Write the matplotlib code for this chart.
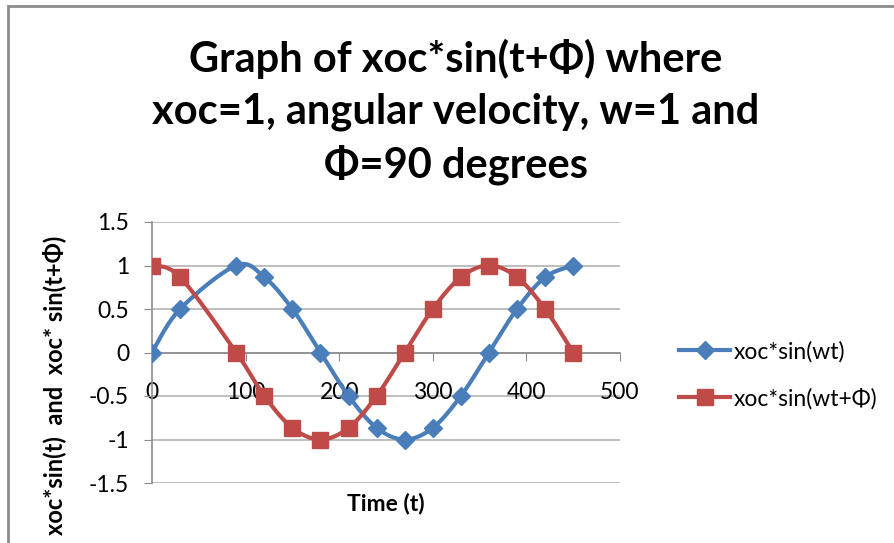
import numpy as np
import matplotlib
matplotlib.use("Agg")
import matplotlib.pyplot as plt
from matplotlib.lines import Line2D

# dados
tempo = [0, 30, 90, 120, 150, 180, 210, 240, 270, 300, 330, 360, 390, 420, 450]
seno = [0, 0.5, 1, 0.866, 0.5, 0, -0.5, -0.866, -1, -0.866, -0.5, 0, 0.5, 0.866, 1]
seno_fase = [1, 0.866, 0, -0.5, -0.866, -1, -0.866, -0.5, 0, 0.5, 0.866, 1, 0.866, 0.5, 0]

nomes = ["xoc*sin(wt)", "xoc*sin(wt+\u03a6)"]
titulo = "Graph of xoc*sin(t+\u03a6) where\nxoc=1, angular velocity, w=1 and\n\u03a6=90 degrees"
y_ticks = [-1.5, -1, -0.5, 0, 0.5, 1, 1.5]
y_labels = ["-1.5", "-1", "-0.5", "0", "0.5", "1", "1.5"]
x_ticks = [0, 100, 200, 300, 400, 500]

azul = "#4A7EBB"
vermelho = "#BE4B48"

plt.rcParams['font.family'] = ['Lato', 'DejaVu Sans']


# curva suavizada tipo Excel (Catmull-Rom)
def suavizar(x, y, sx=100.0, sy=1.0, n=20):
    px = np.array(x, dtype=float) / sx
    py = np.array(y, dtype=float) / sy
    pts = np.column_stack([px, py])
    pts = np.vstack([pts[0], pts, pts[-1]])
    saida = []
    for i in range(1, len(pts) - 2):
        p0, p1, p2, p3 = pts[i - 1], pts[i], pts[i + 1], pts[i + 2]
        t = np.linspace(0, 1, n)[:, None]
        c = 0.5 * ((2 * p1) + (-p0 + p2) * t +
                   (2 * p0 - 5 * p1 + 4 * p2 - p3) * t ** 2 +
                   (-p0 + 3 * p1 - 3 * p2 + p3) * t ** 3)
        saida.append(c)
    c = np.vstack(saida)
    return c[:, 0] * sx, c[:, 1] * sy


fig = plt.figure(figsize=(8.95, 5.43), dpi=100)

# borda externa do grafico
borda = plt.Rectangle((8 / 895, -0.1), 1.2, (543 - 6) / 543 + 0.1, transform=fig.transFigure,
                      fill=False, edgecolor="#8C8C8C", linewidth=2)
fig.patches.append(borda)

ax = fig.add_axes([152 / 895, 1 - 483 / 543, (620 - 152) / 895, (483 - 222) / 543])
ax.set_xlim(0, 500)
ax.set_ylim(-1.5, 1.5)

for yt in y_ticks:
    ax.axhline(yt, color="#B3B3B3", linewidth=1.2, zorder=0)

# eixo x passa pelo zero
ax.spines['top'].set_visible(False)
ax.spines['right'].set_visible(False)
ax.spines['bottom'].set_position(('data', 0))
ax.spines['bottom'].set_color("#8C8C8C")
ax.spines['left'].set_color("#8C8C8C")
ax.spines['bottom'].set_linewidth(1.2)
ax.spines['left'].set_linewidth(1.2)

ax.set_yticks(y_ticks)
ax.set_yticklabels(y_labels)
ax.set_xticks(x_ticks)
ax.tick_params(axis='both', direction='out', length=5.5, color="#8C8C8C", labelsize=16.5)
ax.tick_params(axis='y', pad=11)
ax.tick_params(axis='x', pad=16)

xs, ys = suavizar(tempo, seno)
ax.plot(xs, ys, color=azul, linewidth=3, zorder=3, solid_capstyle='round')
ax.plot(tempo, seno, linestyle='none', marker='D', markersize=9, color=azul, zorder=4)

xs, ys = suavizar(tempo, seno_fase)
ax.plot(xs, ys, color=vermelho, linewidth=3, zorder=5, solid_capstyle='round')
ax.plot(tempo, seno_fase, linestyle='none', marker='s', markersize=11, color=vermelho, zorder=6)

fig.text(456 / 895, 1 - 112 / 543, titulo, ha='center', va='center', fontsize=30,
         fontweight='bold', linespacing=1.43)

fig.text(386 / 895, 1 - 504 / 543, "Time (t)", ha='center', va='center', fontsize=16.5,
         fontweight='bold')
fig.text(54 / 895, 1 - 385 / 543, "xoc*sin(t)  and  xoc* sin(t+\u03a6)", ha='center', va='center',
         fontsize=17, fontweight='bold', rotation=90)

# legenda
itens = [Line2D([0], [0], color=azul, linewidth=3, marker='D', markersize=9),
         Line2D([0], [0], color=vermelho, linewidth=3, marker='s', markersize=11)]
fig.legend(itens, nomes, loc='center left', bbox_to_anchor=(668 / 895, 1 - 375 / 543),
           frameon=False, fontsize=16.5, handlelength=2.2, labelspacing=1.1,
           handletextpad=0.15, borderpad=0)

fig.savefig("out.png", dpi=100)
